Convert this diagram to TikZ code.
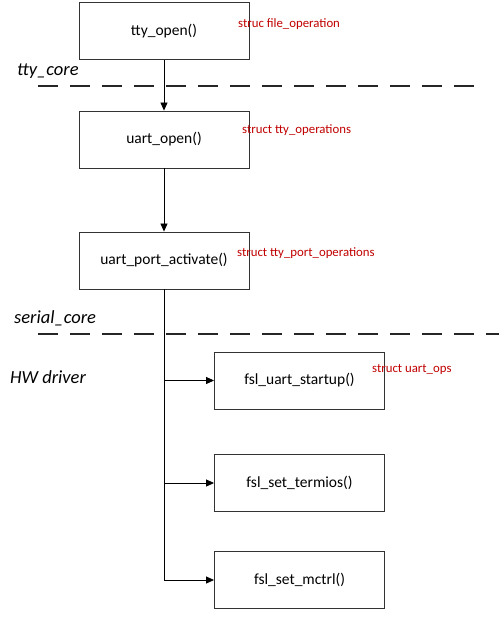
\documentclass[tikz,border=0pt]{standalone}
\usepackage{fontspec}
\setmainfont{Carlito}
\usetikzlibrary{arrows.meta}
\definecolor{redlbl}{RGB}{192,0,0}
\begin{document}
\begin{tikzpicture}[x=1pt,y=-1pt,
  fbox/.style={draw=black!80,line width=0.9pt,minimum width=170pt,minimum height=57pt,inner sep=0pt,font=\fontsize{15.5}{18}\selectfont},
  redlabel/.style={text=redlbl,font=\fontsize{12.8}{15}\selectfont,anchor=west,inner sep=0pt},
  layer/.style={font=\itshape\fontsize{18.5}{22}\selectfont,anchor=west,inner sep=0pt},
  sep/.style={draw=black!85,line width=1.2pt,dash pattern=on 20pt off 12pt},
  conn/.style={draw=black,line width=0.8pt,-{Triangle[length=8pt,width=7pt]}}]
\useasboundingbox (0,0) rectangle (499,617);
\node[fbox] (tty) at (164,31) {tty\_open()};
\node[fbox] (uo) at (164,139.5) {uart\_open()};
\node[fbox] (upa) at (164,260.5) {uart\_port\_activate()};
\node[fbox] (fus) at (299.5,380.5) {fsl\_uart\_startup()};
\node[fbox] (fst) at (299.5,483) {fsl\_set\_termios()};
\node[fbox] (fsm) at (299.5,580) {fsl\_set\_mctrl()};
\node[redlabel] (l1) at (238,24) {struc file\_operation};
\node[redlabel] (l2) at (242,130) {struct tty\_operations};
\node[redlabel] (l3) at (237,253) {struct tty\_port\_operations};
\node[redlabel] (l4) at (372,369) {struct uart\_ops};
\node[layer] (t1) at (17,71) {tty\_core};
\node[layer] (t2) at (14,318) {serial\_core};
\node[layer] (t3) at (10,377) {HW driver};
\coordinate (d1a) at (38,86); \coordinate (d1b) at (475,86);
\coordinate (d2a) at (38,334); \coordinate (d2b) at (499,334);
\draw[sep] (d1a) -- (d1b);
\draw[sep] (d2a) -- (d2b);
\draw[conn] (tty) -- (uo);
\draw[conn] (uo) -- (upa);
\draw[draw=black,line width=0.8pt] (upa.south) -- (upa.south |- fsm.west);
\draw[conn] (upa.south |- fus.west) -- (fus.west);
\draw[conn] (upa.south |- fst.west) -- (fst.west);
\draw[conn] (upa.south |- fsm.west) -- (fsm.west);
\end{tikzpicture}
\end{document}
